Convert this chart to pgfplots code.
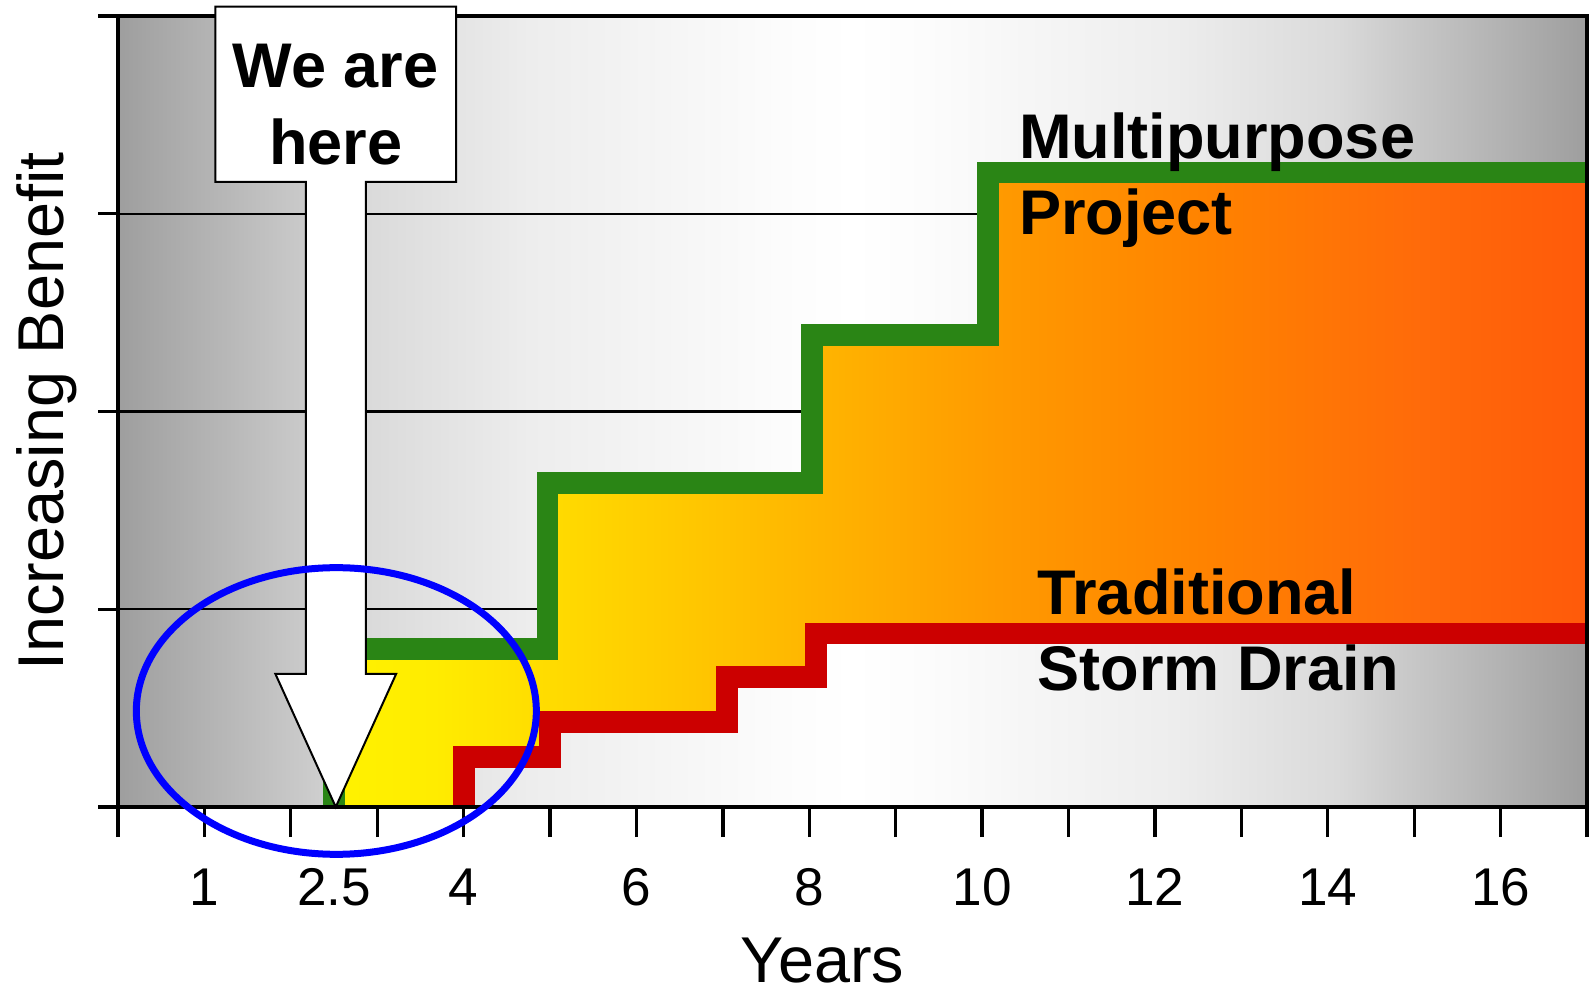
\documentclass[border=0pt]{standalone}
\usepackage{fontspec}
\setmainfont{Liberation Sans}
\usepackage{pgfplots}
\pgfplotsset{compat=1.18}

\definecolor{grn}{RGB}{42,133,21}
\definecolor{rd}{RGB}{204,0,0}
\definecolor{bgA}{RGB}{158,158,158}
\definecolor{bgB}{RGB}{202,202,202}
\definecolor{bgC}{RGB}{218,218,218}
\definecolor{bgD}{RGB}{237,237,237}
\definecolor{bgE}{RGB}{252,252,252}
\definecolor{bgW}{RGB}{255,255,255}
\definecolor{fA}{RGB}{255,242,0}
\definecolor{fB}{RGB}{255,236,0}
\definecolor{fC}{RGB}{255,200,0}
\definecolor{fD}{RGB}{255,154,0}
\definecolor{fE}{RGB}{255,130,0}
\definecolor{fF}{RGB}{255,106,10}
\definecolor{fG}{RGB}{255,90,10}

\pgfdeclarehorizontalshading{bggrad}{100bp}{color(0bp)=(bgA); color(25bp)=(bgA); color(31.35bp)=(bgB); color(33.5bp)=(bgC); color(39bp)=(bgD); color(47.5bp)=(bgE); color(50bp)=(bgW); color(52.5bp)=(bgE); color(61bp)=(bgD); color(66.5bp)=(bgC); color(68.65bp)=(bgB); color(75bp)=(bgA); color(100bp)=(bgA)}
\pgfdeclarehorizontalshading{fillgrad}{100bp}{color(0bp)=(fA); color(25bp)=(fA); color(29bp)=(fB); color(39bp)=(fC); color(51.5bp)=(fD); color(60bp)=(fE); color(68.5bp)=(fF); color(75bp)=(fG); color(100bp)=(fG)}

\begin{document}
\begin{tikzpicture}
\begin{axis}[name=ax, scale only axis, width=440.7bp, height=237.3bp,
  xmin=0, xmax=17, ymin=0, ymax=4,
  axis background/.style={shade, shading=bggrad},
  xtick={0,...,17},
  xticklabels={,1,,,4,,6,,8,,10,,12,,14,,16,},
  extra x ticks={2.5}, extra x tick labels={2.5},
  extra x tick style={tick style={draw=none}},
  xtick pos=bottom,
  ytick=\empty,
  tick align=outside, major tick length=9bp,
  tick style={black, line width=1bp},
  axis line style={line width=1.35bp},
  xticklabel style={font=\fontsize{16}{16}\selectfont, inner sep=0pt, yshift=-9.3bp},
  /pgf/number format/assume math mode=true,
  clip=false]
% grid lines (under the fill)
\draw[black, line width=0.7bp] (axis cs:0,1) -- (axis cs:17,1);
\draw[black, line width=0.7bp] (axis cs:0,2) -- (axis cs:17,2);
\draw[black, line width=0.7bp] (axis cs:0,3) -- (axis cs:17,3);
% benefit gap area
\addplot[draw=none, shade, shading=fillgrad] coordinates {
  (2.5,0) (2.5,0.8) (4.97,0.8) (4.97,1.638) (8.03,1.638) (8.03,2.387)
  (10.07,2.387) (10.07,3.209) (17,3.209) (17,0.877) (8.08,0.877) (8.08,0.657)
  (7.05,0.657) (7.05,0.43) (5,0.43) (5,0.253) (4.005,0.253) (4.005,0)
} \closedcycle;
% Traditional storm drain
\addplot[rd, line width=6.45bp, line join=miter] coordinates {
  (4.005,0) (4.005,0.253) (5,0.253) (5,0.43) (7.05,0.43) (7.05,0.657)
  (8.08,0.657) (8.08,0.877) (17,0.877)};
% Multipurpose project
\addplot[grn, line width=6.5bp, line join=miter] coordinates {
  (2.5,0) (2.5,0.8) (4.97,0.8) (4.97,1.638) (8.03,1.638) (8.03,2.387)
  (10.07,2.387) (10.07,3.209) (17,3.209)};
\end{axis}
% frame on top
\draw[line width=1.35bp] (ax.south west) rectangle (ax.north east);
% y ticks
\draw[line width=1bp] (0,0) -- (-6bp,0);
\draw[line width=1bp] (0,59.325bp) -- (-6bp,59.325bp);
\draw[line width=1bp] (0,118.65bp) -- (-6bp,118.65bp);
\draw[line width=1bp] (0,177.975bp) -- (-6bp,177.975bp);
\draw[line width=1bp] (0,237.3bp) -- (-6bp,237.3bp);
% labels
\node[rotate=90, anchor=base, inner sep=0pt, font=\fontsize{19.5}{19.5}\selectfont] at (-16.5bp,118.65bp) {Increasing Benefit};
\node[anchor=base, inner sep=0pt, font=\fontsize{19.5}{19.5}\selectfont] at (211.35bp,-52.6bp) {Years};
\node[anchor=base west, inner sep=0pt, font=\bfseries\fontsize{19}{19}\selectfont] at (270.1bp,194.6bp) {Multipurpose};
\node[anchor=base west, inner sep=0pt, font=\bfseries\fontsize{19}{19}\selectfont] at (270.1bp,171.6bp) {Project};
\node[anchor=base west, inner sep=0pt, font=\bfseries\fontsize{19}{19}\selectfont] at (275.6bp,57.6bp) {Traditional};
\node[anchor=base west, inner sep=0pt, font=\bfseries\fontsize{19}{19}\selectfont] at (275.7bp,35.1bp) {Storm Drain};
% we are here arrow
\draw[black, line width=0.6bp, fill=white, line join=miter]
  (65.33bp,0) -- (47.23bp,39.9bp) -- (56.33bp,39.9bp) -- (56.33bp,187.5bp)
  -- (29.23bp,187.5bp) -- (29.23bp,240.1bp) -- (101.43bp,240.1bp) -- (101.43bp,187.5bp)
  -- (74.33bp,187.5bp) -- (74.33bp,39.9bp) -- (83.43bp,39.9bp) -- cycle;
\node[anchor=base, inner sep=0pt, font=\bfseries\fontsize{19}{19}\selectfont] at (65.33bp,215.7bp) {We are};
\node[anchor=base, inner sep=0pt, font=\bfseries\fontsize{19}{19}\selectfont] at (65.33bp,192.6bp) {here};
% highlight ellipse
\draw[blue, line width=2.1bp] (65.5bp,28.8bp) ellipse [x radius=60bp, y radius=43bp];
\pgfresetboundingbox
\path[use as bounding box] (-35.4bp,-56.7bp) rectangle (441.6bp,242.1bp);
\end{tikzpicture}
\end{document}
